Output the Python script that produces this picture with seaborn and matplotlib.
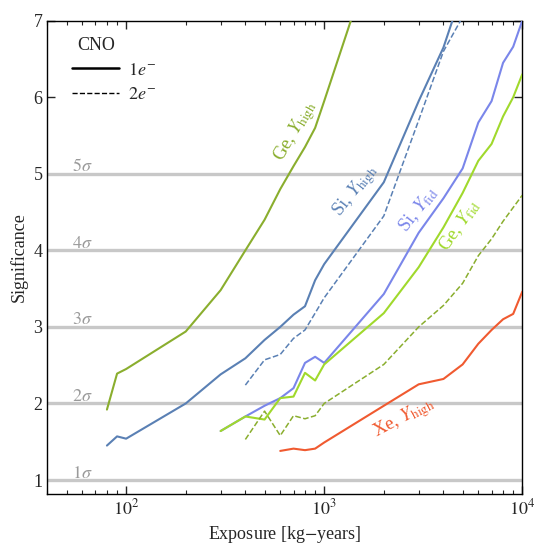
import numpy as np
import pandas as pd
import matplotlib
matplotlib.use("Agg")
import matplotlib.pyplot as plt
from matplotlib.lines import Line2D
import seaborn as sns

# ---------------- data ----------------
ge_high_x = [80, 90, 100, 200, 300, 400, 500, 600, 700, 800, 900, 1000, 2000]
ge_high_y = [1.92, 2.39, 2.45, 2.94, 3.48, 4.00, 4.40, 4.80, 5.10, 5.35, 5.60, 5.95, 8.3]

si_high_x = [80, 90, 100, 200, 300, 400, 500, 600, 700, 800, 900, 1000, 2000, 3000, 4000, 5000]
si_high_y = [1.45, 1.57, 1.54, 2.00, 2.38, 2.59, 2.83, 3.00, 3.16, 3.27, 3.61, 3.82, 4.89, 5.95, 6.65, 7.4]

si_high_2e_x = [400, 500, 600, 700, 800, 900, 1000, 2000, 3000, 4000, 5000, 6000]
si_high_2e_y = [2.24, 2.57, 2.64, 2.85, 2.96, 3.18, 3.38, 4.45, 5.70, 6.60, 7.05, 7.5]

si_fid_x = [300, 400, 500, 600, 700, 800, 900, 1000, 2000, 3000, 4000, 5000, 6000, 7000, 8000, 9000, 10000]
si_fid_y = [1.64, 1.83, 1.97, 2.07, 2.20, 2.53, 2.61, 2.53, 3.43, 4.23, 4.68, 5.07, 5.67, 5.95, 6.45, 6.66, 7.0]

ge_fid_x = [300, 400, 500, 600, 700, 800, 900, 1000, 2000, 3000, 4000, 5000, 6000, 7000, 8000, 9000, 10000]
ge_fid_y = [1.64, 1.83, 1.79, 2.07, 2.09, 2.40, 2.30, 2.51, 3.18, 3.78, 4.30, 4.75, 5.17, 5.39, 5.75, 6.00, 6.30]

ge_fid_2e_x = [400, 500, 600, 700, 800, 900, 1000, 2000, 3000, 4000, 5000, 6000, 7000, 8000, 9000, 10000]
ge_fid_2e_y = [1.53, 1.90, 1.58, 1.84, 1.80, 1.84, 2.00, 2.51, 3.00, 3.28, 3.57, 3.93, 4.15, 4.38, 4.56, 4.72]

xe_high_x = [600, 700, 800, 900, 1000, 2000, 3000, 4000, 5000, 6000, 7000, 8000, 9000, 10000]
xe_high_y = [1.38, 1.41, 1.39, 1.41, 1.49, 1.97, 2.25, 2.32, 2.51, 2.78, 2.96, 3.10, 3.17, 3.46]

sigma_levels = [1, 2, 3, 4, 5]
y_ticks = [1, 2, 3, 4, 5, 6, 7]
x_ticks = [100, 1000, 10000]
x_tick_labels = [r"$10^2$", r"$10^3$", r"$10^4$"]

# ---------------- style ----------------
sns.set_style("ticks")
plt.rcParams["font.family"] = ["serif"]
plt.rcParams["font.serif"] = ["Liberation Serif", "DejaVu Serif"]
plt.rcParams["mathtext.fontset"] = "stix"

C_GE_HIGH = "#8aae2e"
C_SI_HIGH = "#5a80b4"
C_SI_FID = "#7a86ea"
C_GE_FID = "#a0d92c"
C_XE = "#f05a30"

fig = plt.figure(figsize=(5.34, 5.48), dpi=100)
ax = fig.add_axes([0.0886, 0.0985, 0.8894, 0.8637])

for k in sigma_levels:
    ax.axhline(k, color="#c8c8c8", lw=2.4, zorder=1)
    ax.text(53, k - 0.02, rf"${k}\sigma$", color="#9a9a9a", fontsize=13,
            ha="left", va="bottom", zorder=2)

series = [
    (si_fid_x, si_fid_y, C_SI_FID, "-", 1.5),
    (ge_fid_x, ge_fid_y, C_GE_FID, "-", 1.5),
    (ge_high_x, ge_high_y, C_GE_HIGH, "-", 1.5),
    (si_high_x, si_high_y, C_SI_HIGH, "-", 1.5),
    (si_high_2e_x, si_high_2e_y, C_SI_HIGH, "--", 1.1),
    (ge_fid_2e_x, ge_fid_2e_y, C_GE_HIGH, "--", 1.1),
    (xe_high_x, xe_high_y, C_XE, "-", 1.5),
]
for xs, ys, c, ls, lw in series:
    df = pd.DataFrame({"x": xs, "y": ys})
    sns.lineplot(data=df, x="x", y="y", ax=ax, color=c, linestyle=ls, lw=lw,
                 sort=False, estimator=None, zorder=3)

ax.set_xscale("log")
ax.set_xlim(40, 1e4)
ax.set_ylim(0.817, 7)
ax.set_xticks(x_ticks)
ax.set_xticklabels(x_tick_labels)
ax.set_yticks(y_ticks)
ax.set_yticklabels([str(v) for v in y_ticks])
ax.tick_params(which="both", direction="in", top=True, right=True, labelsize=13)
ax.tick_params(which="major", length=6, width=1)
ax.tick_params(which="minor", length=3, width=0.8)
ax.tick_params(axis="y", which="minor", left=False, right=False)
for s in ax.spines.values():
    s.set_linewidth(1.0)
    s.set_color("black")

ax.set_xlabel("Exposure [kg$-$years]", fontsize=13)
ax.set_ylabel("Significance", fontsize=13)

# curve labels
lab_kw = dict(fontsize=13.5, ha="center", va="center", rotation_mode="anchor")
ax.text(720, 5.55, r"Ge, $Y_{\rm high}$", color=C_GE_HIGH, rotation=60, **lab_kw)
ax.text(1445, 4.78, r"Si, $Y_{\rm high}$", color=C_SI_HIGH, rotation=52, **lab_kw)
ax.text(2970, 4.53, r"Si, $Y_{\rm fid}$", color=C_SI_FID, rotation=52, **lab_kw)
ax.text(4840, 4.33, r"Ge, $Y_{\rm fid}$", color=C_GE_FID, rotation=55, **lab_kw)
ax.text(2520, 1.81, r"Xe, $Y_{\rm high}$", color=C_XE, rotation=28, **lab_kw)

handles = [Line2D([], [], color="black", lw=1.8, ls="-"),
           Line2D([], [], color="black", lw=1.0, ls="--")]
leg = ax.legend(handles, [r"$1e^{-}$", r"$2e^{-}$"], title="CNO", loc="upper left",
                bbox_to_anchor=(0.036, 0.98), frameon=False, fontsize=13,
                title_fontsize=13, handlelength=2.6, handletextpad=0.5,
                labelspacing=0.4, alignment="left", borderaxespad=0)
leg.get_title().set_position((6, 0))

fig.savefig("out.png", dpi=100)
